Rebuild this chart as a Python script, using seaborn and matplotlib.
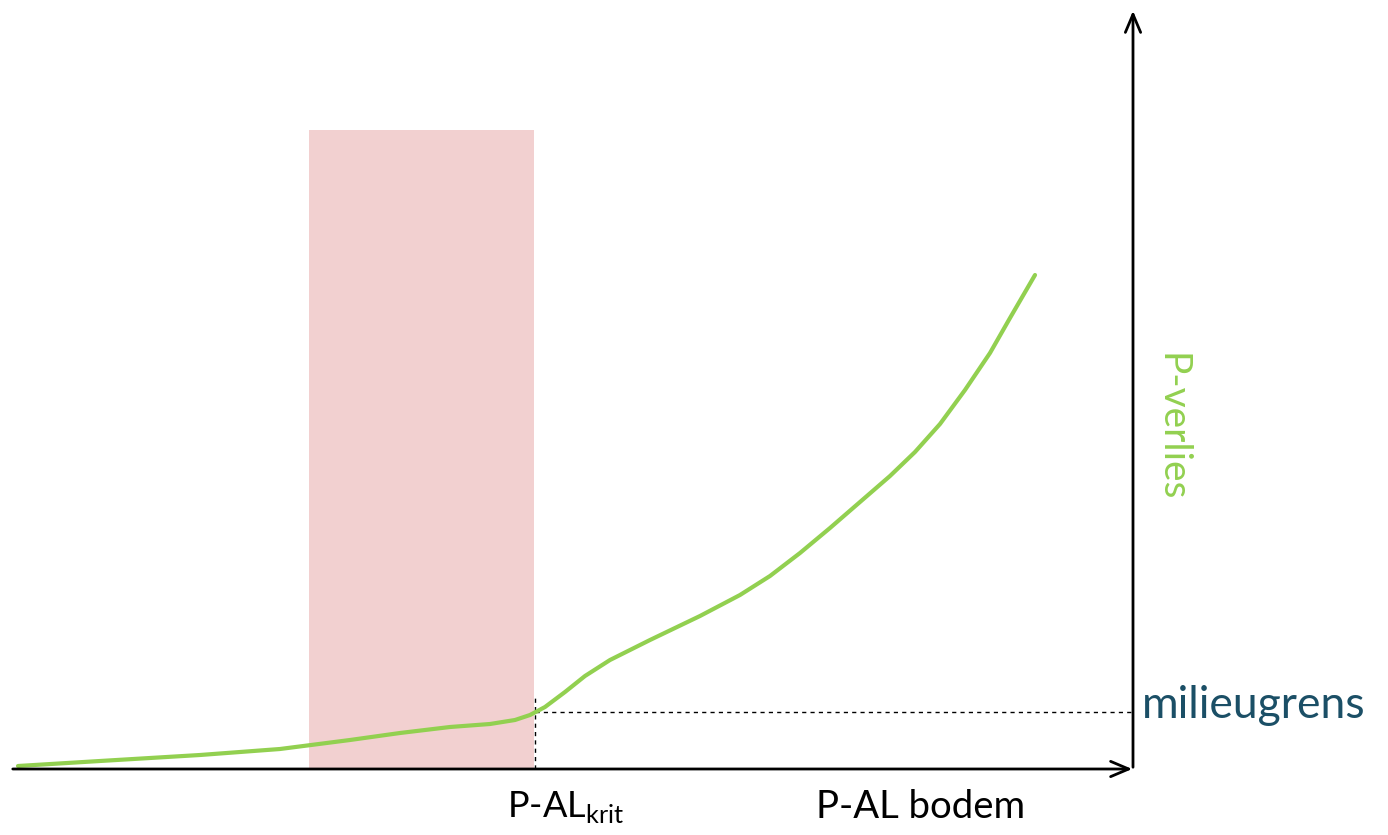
import matplotlib.pyplot as plt
import seaborn as sns
import pandas as pd

# P-AL (x) vs P-verlies (y) (arbitrary units)
p_al = [8, 90, 190, 270, 340, 390, 440, 480, 505, 520, 535, 555, 575, 600, 640, 690,
        730, 760, 790, 820, 850, 880, 905, 930, 955, 980, 1000, 1025]
p_verlies = [3, 8, 14, 20, 29, 36, 42, 45, 49, 54, 62, 77, 93, 109, 129, 153,
             174, 193, 216, 241, 267, 293, 317, 345, 379, 416, 451, 494]

p_al_krit = 525
milieugrens = 57
band_start, band_end = 299, 524
band_top = 639

sns.set_style("white")
plt.rcParams["font.family"] = ["Lato", "DejaVu Sans"]
plt.rcParams["text.color"] = "black"

fig = plt.figure(figsize=(13.88, 8.35), dpi=100)
# axes: x from 10px to 1133px, y from 769px up to 10px
ax = fig.add_axes([10 / 1388, (835 - 769) / 835, 1123 / 1388, 759 / 835])
ax.set_xlim(0, 1123)
ax.set_ylim(0, 759)
ax.axis("off")

ax.axvspan(band_start, band_end, ymax=band_top / 759, color="#F2D0D0", lw=0, zorder=0)

df = pd.DataFrame({"P-AL": p_al, "P-verlies": p_verlies})
sns.lineplot(data=df, x="P-AL", y="P-verlies", ax=ax, color="#92D050", lw=3, zorder=3)

ax.plot([p_al_krit, p_al_krit], [0, milieugrens + 17], color="black", ls=(0, (3, 3)), lw=1, zorder=2)
ax.plot([p_al_krit, 1123], [milieugrens, milieugrens], color="black", ls=(0, (3, 3)), lw=1, zorder=2)

# axes with open arrowheads
ax.annotate("", xy=(1125, 0), xytext=(0, 0), annotation_clip=False,
            arrowprops=dict(arrowstyle="->,head_length=1.3,head_width=0.55", lw=2, color="black"))
ax.annotate("", xy=(1123, 761), xytext=(1123, -1), annotation_clip=False,
            arrowprops=dict(arrowstyle="->,head_length=1.3,head_width=0.55", lw=2, color="black"))

ax.text(497, -20, r"P-AL$_{\mathregular{krit}}$", ha="left", va="top", fontsize=26)
ax.text(911, -20, "P-AL bodem", ha="center", va="top", fontsize=27.5)
ax.text(1132, milieugrens + 6, "milieugrens", ha="left", va="center", fontsize=32, color="#1B4F66")
ax.text(1162, 342, "P-verlies", ha="center", va="center", rotation=-90, fontsize=28, color="#92D050")

plt.savefig("out.png", dpi=100)
